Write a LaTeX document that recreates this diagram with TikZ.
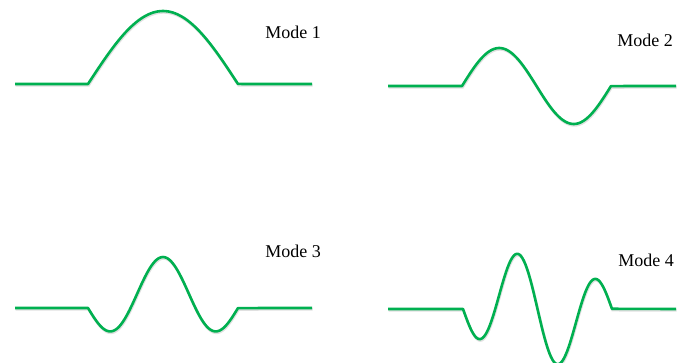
\documentclass[tikz,border=0pt]{standalone}
\usepackage{fontspec}
\setmainfont{Liberation Serif}
\usepackage{tikz}
\definecolor{modegreen}{RGB}{0,176,80}

\begin{document}
\begin{tikzpicture}[
    x=1pt, y=-1pt,
    modeline/.style={draw=modegreen, line width=2.6pt, line join=round,
                     preaction={draw=black!12, line width=2.6pt,
                                transform canvas={shift={(0.6pt,-1.4pt)}}}},
    modelabel/.style={font=\fontsize{18}{20}\selectfont, inner sep=0pt}
]
    \useasboundingbox (0,0) rectangle (677,362);

    \draw[modeline] (15,84) -- (88,84)
        -- plot[domain=0:1, samples=61, variable=\t] ({88+150*\t}, {84-73*sin(180*\t)})
        -- (312,84);
    \draw[modeline] (388,86) -- (462,86)
        -- plot[domain=0:1, samples=81, variable=\t] ({462+149*\t}, {86-38*sin(360*\t)})
        -- (676,86);
    \draw[modeline] (15,308) -- (88,308)
        -- plot[domain=0:1, samples=91, variable=\t] ({88+150*\t}, {308+32.3*sin(540*\t)-18.7*sin(180*\t)})
        -- (312,308);
    \draw[modeline] (388,309) -- (463,309)
        -- plot[domain=0:1, samples=101, variable=\t] ({463+149*\t}, {309+42.2*sin(720*\t)-17.8*sin(360*\t)})
        -- (676,309);

    \node[modelabel] (mode1) at (293,32) {Mode 1};
    \node[modelabel] (mode2) at (645,40) {Mode 2};
    \node[modelabel] (mode3) at (293,251) {Mode 3};
    \node[modelabel] (mode4) at (646,260) {Mode 4};
\end{tikzpicture}
\end{document}
